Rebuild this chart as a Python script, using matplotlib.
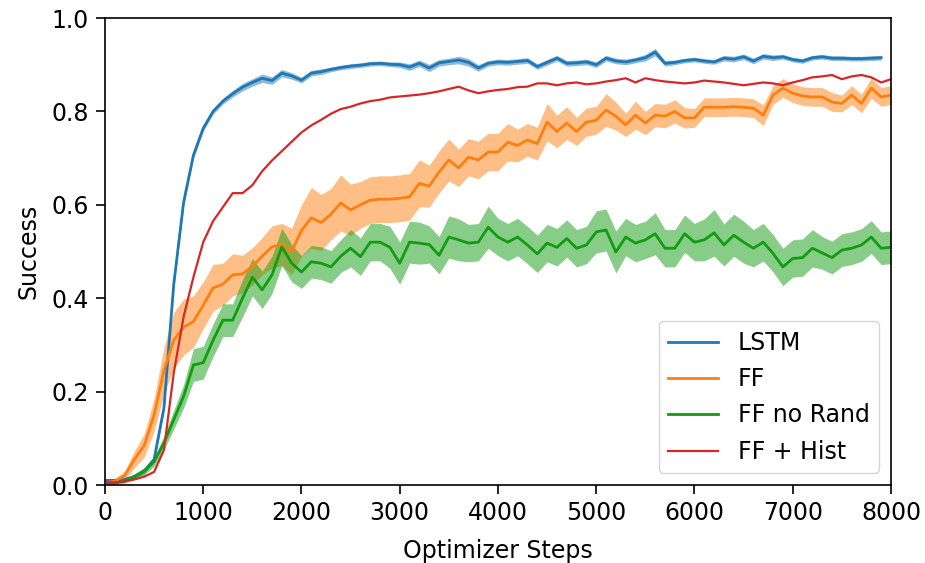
import numpy as np
import matplotlib
matplotlib.use("Agg")
import matplotlib.pyplot as plt

# optimizer steps, one sample every 100 steps
steps = np.arange(0, 8001, 100)

lstm = [0.010, 0.010, 0.012, 0.018, 0.030, 0.055, 0.165, 0.430, 0.605, 0.706,
        0.764, 0.800, 0.822, 0.838, 0.852, 0.862, 0.871, 0.866, 0.882, 0.876,
        0.867, 0.882, 0.885, 0.890, 0.894, 0.897, 0.899, 0.902, 0.903, 0.901,
        0.900, 0.895, 0.903, 0.893, 0.904, 0.907, 0.910, 0.905, 0.893, 0.903,
        0.906, 0.905, 0.907, 0.909, 0.896, 0.905, 0.914, 0.903, 0.904, 0.906,
        0.900, 0.914, 0.908, 0.906, 0.910, 0.915, 0.927, 0.903, 0.905, 0.909,
        0.911, 0.908, 0.906, 0.914, 0.912, 0.917, 0.908, 0.918, 0.915, 0.917,
        0.911, 0.908, 0.915, 0.917, 0.914, 0.914, 0.913, 0.913, 0.914, 0.915]
lstm_err = [0.003, 0.003, 0.003, 0.004, 0.005, 0.006, 0.008, 0.008, 0.008, 0.007,
            0.006, 0.006, 0.006, 0.007, 0.008, 0.008, 0.009, 0.008, 0.008, 0.007,
            0.006, 0.006, 0.006, 0.005, 0.005, 0.005, 0.005, 0.005, 0.005, 0.005,
            0.006, 0.007, 0.007, 0.008, 0.007, 0.007, 0.008, 0.008, 0.007, 0.006,
            0.006, 0.006, 0.006, 0.006, 0.006, 0.006, 0.006, 0.006, 0.006, 0.006,
            0.006, 0.006, 0.006, 0.006, 0.006, 0.007, 0.008, 0.006, 0.005, 0.005,
            0.005, 0.005, 0.005, 0.006, 0.006, 0.006, 0.006, 0.006, 0.006, 0.005,
            0.005, 0.005, 0.005, 0.005, 0.005, 0.005, 0.005, 0.005, 0.005, 0.005]

ff = [0.005, 0.008, 0.020, 0.055, 0.085, 0.150, 0.245, 0.310, 0.338, 0.350,
      0.385, 0.422, 0.430, 0.450, 0.452, 0.468, 0.490, 0.510, 0.515, 0.500,
      0.545, 0.572, 0.562, 0.580, 0.604, 0.589, 0.600, 0.610, 0.612, 0.612,
      0.614, 0.617, 0.646, 0.640, 0.670, 0.696, 0.679, 0.702, 0.696, 0.713,
      0.713, 0.734, 0.727, 0.739, 0.731, 0.777, 0.757, 0.775, 0.757, 0.777,
      0.781, 0.803, 0.790, 0.771, 0.792, 0.775, 0.792, 0.790, 0.800, 0.786,
      0.786, 0.809, 0.809, 0.809, 0.810, 0.809, 0.807, 0.792, 0.835, 0.850,
      0.839, 0.833, 0.831, 0.831, 0.820, 0.817, 0.835, 0.817, 0.850, 0.831,
      0.835]
ff_err = [0.004, 0.006, 0.010, 0.018, 0.025, 0.035, 0.050, 0.060, 0.060, 0.055,
          0.050, 0.050, 0.045, 0.045, 0.040, 0.040, 0.040, 0.045, 0.045, 0.050,
          0.055, 0.065, 0.060, 0.055, 0.060, 0.055, 0.050, 0.050, 0.050, 0.050,
          0.050, 0.050, 0.050, 0.045, 0.045, 0.045, 0.040, 0.040, 0.040, 0.040,
          0.040, 0.040, 0.035, 0.035, 0.035, 0.040, 0.035, 0.035, 0.030, 0.030,
          0.030, 0.035, 0.030, 0.025, 0.030, 0.025, 0.025, 0.025, 0.025, 0.022,
          0.020, 0.020, 0.020, 0.020, 0.020, 0.020, 0.020, 0.022, 0.020, 0.020,
          0.020, 0.020, 0.020, 0.020, 0.020, 0.018, 0.020, 0.020, 0.022, 0.020,
          0.020]

ff_norand = [0.005, 0.005, 0.008, 0.018, 0.030, 0.050, 0.090, 0.140, 0.190, 0.257,
             0.262, 0.310, 0.353, 0.353, 0.400, 0.445, 0.418, 0.450, 0.510, 0.475,
             0.456, 0.478, 0.475, 0.467, 0.490, 0.507, 0.489, 0.520, 0.520, 0.509,
             0.475, 0.520, 0.518, 0.515, 0.492, 0.531, 0.525, 0.518, 0.520, 0.552,
             0.531, 0.520, 0.531, 0.514, 0.495, 0.518, 0.509, 0.528, 0.507, 0.514,
             0.542, 0.546, 0.499, 0.531, 0.518, 0.525, 0.538, 0.507, 0.507, 0.538,
             0.520, 0.525, 0.540, 0.514, 0.535, 0.520, 0.507, 0.520, 0.496, 0.467,
             0.485, 0.487, 0.507, 0.497, 0.487, 0.503, 0.507, 0.514, 0.531, 0.507,
             0.509]
ff_norand_err = [0.003, 0.003, 0.004, 0.006, 0.008, 0.010, 0.015, 0.020, 0.025, 0.035,
                 0.035, 0.035, 0.035, 0.035, 0.040, 0.040, 0.040, 0.040, 0.040, 0.040,
                 0.035, 0.035, 0.035, 0.035, 0.035, 0.040, 0.040, 0.040, 0.040, 0.045,
                 0.045, 0.045, 0.045, 0.040, 0.040, 0.045, 0.045, 0.040, 0.040, 0.045,
                 0.040, 0.040, 0.040, 0.040, 0.040, 0.040, 0.040, 0.040, 0.040, 0.040,
                 0.045, 0.045, 0.045, 0.040, 0.040, 0.040, 0.045, 0.040, 0.040, 0.040,
                 0.040, 0.045, 0.050, 0.045, 0.045, 0.045, 0.040, 0.040, 0.040, 0.040,
                 0.040, 0.040, 0.040, 0.035, 0.035, 0.035, 0.035, 0.035, 0.035, 0.035,
                 0.035]

ff_hist = [0.005, 0.005, 0.008, 0.012, 0.018, 0.028, 0.075, 0.240, 0.360, 0.445,
           0.520, 0.565, 0.595, 0.625, 0.625, 0.642, 0.672, 0.695, 0.715, 0.735,
           0.755, 0.770, 0.782, 0.795, 0.805, 0.810, 0.817, 0.822, 0.825, 0.830,
           0.832, 0.834, 0.836, 0.839, 0.843, 0.848, 0.853, 0.845, 0.839, 0.843,
           0.846, 0.848, 0.852, 0.853, 0.860, 0.860, 0.856, 0.860, 0.862, 0.858,
           0.860, 0.864, 0.867, 0.871, 0.862, 0.871, 0.867, 0.864, 0.862, 0.860,
           0.862, 0.866, 0.864, 0.862, 0.859, 0.856, 0.859, 0.862, 0.860, 0.856,
           0.862, 0.867, 0.873, 0.875, 0.878, 0.869, 0.875, 0.878, 0.873, 0.862,
           0.869]

series = [
    ("LSTM", lstm, lstm_err, "#1f77b4", 2.0),
    ("FF", ff, ff_err, "#ff7f0e", 2.0),
    ("FF no Rand", ff_norand, ff_norand_err, "#109d10", 2.0),
    ("FF + Hist", ff_hist, None, "#d62728", 1.6),
]

plt.rcParams['font.family'] = ['DejaVu Sans']
fig = plt.figure(figsize=(9.25, 5.63), dpi=100)
ax = fig.add_axes([0.1135, 0.1385, 0.8497, 0.8295])

for name, mean, err, color, lw in series:
    x = steps[:len(mean)]
    m = np.array(mean)
    ax.plot(x, m, color=color, lw=lw, label=name)
    if err is not None:
        e = np.array(err)
        ax.fill_between(x, m - e, m + e, color=color, alpha=0.5, lw=0)

ax.set_xlim(0, 8000)
ax.set_ylim(0.0, 1.0)
ax.set_xticks(np.arange(0, 8001, 1000))
ax.set_yticks(np.arange(0, 1.01, 0.2))
ax.tick_params(labelsize=17, length=6.5, width=1.2, pad=5)
for sp in ax.spines.values():
    sp.set_linewidth(1.2)
ax.set_xlabel("Optimizer Steps", fontsize=17, labelpad=10)
ax.set_ylabel("Success", fontsize=17, labelpad=8)
ax.legend(loc="lower right", fontsize=17, handlelength=2.1,
          handletextpad=0.85, borderpad=0.4, labelspacing=0.52)

fig.savefig("out.png", dpi=100)
